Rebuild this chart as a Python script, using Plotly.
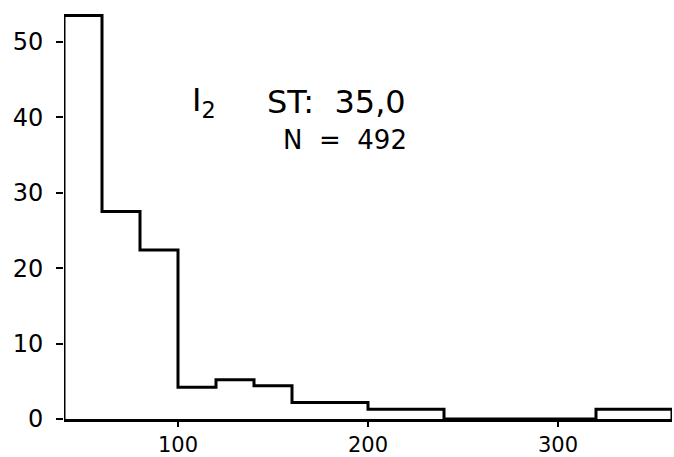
import plotly.graph_objects as go

bin_edges = [40, 60, 80, 100, 120, 140, 160, 200, 240, 320, 360]
counts = [53.5, 27.5, 22.4, 4.2, 5.2, 4.4, 2.2, 1.3, 0, 1.3]
x_ticks = [100, 200, 300]
y_ticks = [0, 10, 20, 30, 40, 50]
y_tick_labels = ["0", "10", "20", "30", "40", "50"]

xs = [bin_edges[0]] + bin_edges + [bin_edges[-1]]
ys = [0] + counts + [counts[-1], 0]

fig = go.Figure()
fig.add_trace(go.Scatter(
    x=xs, y=ys, mode="lines", line=dict(color="black", width=3, shape="hv"),
    cliponaxis=False, showlegend=False, hoverinfo="skip"))

font = dict(family="DejaVu Sans", size=24, color="black")
fig.update_layout(
    width=674, height=457,
    margin=dict(l=64, r=2, t=8, b=38),
    paper_bgcolor="white", plot_bgcolor="white",
    font=font,
    xaxis=dict(range=[40, 360], tickvals=x_ticks, ticks="outside", ticklen=5,
               tickwidth=2, tickcolor="black", showline=True, linecolor="black",
               linewidth=3, showgrid=False, zeroline=False, automargin=False,
               tickfont=dict(size=21), ticklabelstandoff=0),
    yaxis=dict(range=[0, 54.5], tickvals=y_ticks, ticktext=y_tick_labels,
               ticks="outside", ticklen=7, tickwidth=2, tickcolor="black",
               showline=False, showgrid=False,
               zeroline=False, automargin=False, ticklabelstandoff=8),
    annotations=[
        dict(x=0.207, y=0.771, xref="paper", yref="paper", xanchor="left", yanchor="middle",
             text="I<sub>2</sub>", showarrow=False,
             font=dict(family="DejaVu Sans", size=32, color="black")),
        dict(x=0.331, y=0.771, xref="paper", yref="paper", xanchor="left", yanchor="middle",
             text="ST:  35,0", showarrow=False,
             font=dict(family="DejaVu Sans", size=32, color="black")),
        dict(x=0.462, y=0.679, xref="paper", yref="paper", xanchor="center", yanchor="middle",
             text="N  =  492", showarrow=False,
             font=dict(family="DejaVu Sans", size=26, color="black")),
    ],
)

fig.write_html("out.html", config={"displayModeBar": False},
               post_script="document.body.style.margin='0';")
